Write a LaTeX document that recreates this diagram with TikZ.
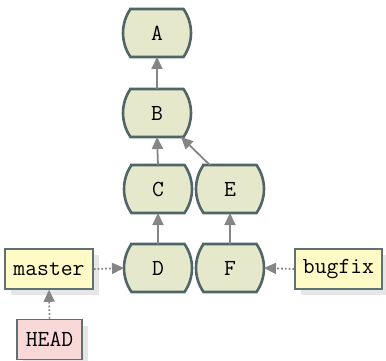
\documentclass[tikz,border=0pt]{standalone}
\usepackage{fontspec}
\usetikzlibrary{backgrounds,shadows,arrows.meta,calc}
\definecolor{commitfill}{HTML}{E6E8CC}
\definecolor{commitdraw}{HTML}{4F6568}
\definecolor{reffill}{HTML}{FFFAC6}
\definecolor{headfill}{HTML}{F9D8D8}
\definecolor{refdraw}{HTML}{5E7173}
\definecolor{edgecol}{HTML}{858585}
\definecolor{shadowcol}{HTML}{E6E6E6}
\newcommand\commitpath[1]{($(#1.north west)+(7.5,0)$) -- ($(#1.north east)+(-7.5,0)$)
  arc[start angle=-34.7, end angle=34.7, radius=42.15]
  -- ($(#1.south west)+(7.5,0)$)
  arc[start angle=145.3, end angle=214.7, radius=42.15] -- cycle}
\tikzset{
  commit/.style={rectangle, minimum width=68pt, minimum height=48pt,
    inner sep=0pt, outer sep=0pt,
    font=\fontsize{23}{27}\selectfont\ttfamily},
  commitoutline/.style={fill=commitfill, draw=commitdraw, line width=2.6pt},
  commitshadow/.style={fill=shadowcol, shift={(5,5)}},
  ref/.style={rectangle, minimum height=40pt, inner sep=0pt,
    fill=reffill, draw=refdraw, line width=1.6pt,
    drop shadow={shadow xshift=6pt, shadow yshift=-6pt, fill=shadowcol, opacity=1},
    font=\fontsize{23}{27}\selectfont\ttfamily},
  parent/.style={draw=edgecol, line width=1.8pt, -{Triangle[length=12pt,width=11pt]}},
  pointer/.style={parent, dotted}
}
\begin{document}
\begin{tikzpicture}[x=1pt,y=-1pt]
\useasboundingbox (0,0) rectangle (386,361);
\node[commit] (A) at (157,33) {A};
\node[commit] (B) at (157,113) {B};
\node[commit] (C) at (158,189) {C};
\node[commit] (E) at (230,189) {E};
\node[commit] (D) at (158,268) {D};
\node[commit] (F) at (230,268) {F};
\begin{scope}[on background layer]
  \foreach \n in {A,B,C,E,D,F}{
    \path[commitshadow] \commitpath{\n};
  }
  \foreach \n in {A,B,C,E,D,F}{
    \path[commitoutline] \commitpath{\n};
  }
\end{scope}
\node[ref, minimum width=88pt] (master) at (49,269) {master};
\node[ref, minimum width=65pt, fill=headfill] (HEAD) at (49.5,339.5) {HEAD};
\node[ref, minimum width=87pt] (bugfix) at (338.5,269) {bugfix};
\draw[parent] (B.north) -- (A.south);
\draw[parent] (C.north) -- (B.south);
\draw[parent] (D.north) -- (C.south);
\draw[parent] (F.north) -- (E.south);
\draw[parent] (E.130) -- (B.-45);
\draw[pointer] (master.east) -- (D.west);
\draw[pointer] (HEAD.north) -- (master.south);
\draw[pointer] (bugfix.west) -- (F.east);
\end{tikzpicture}
\end{document}
